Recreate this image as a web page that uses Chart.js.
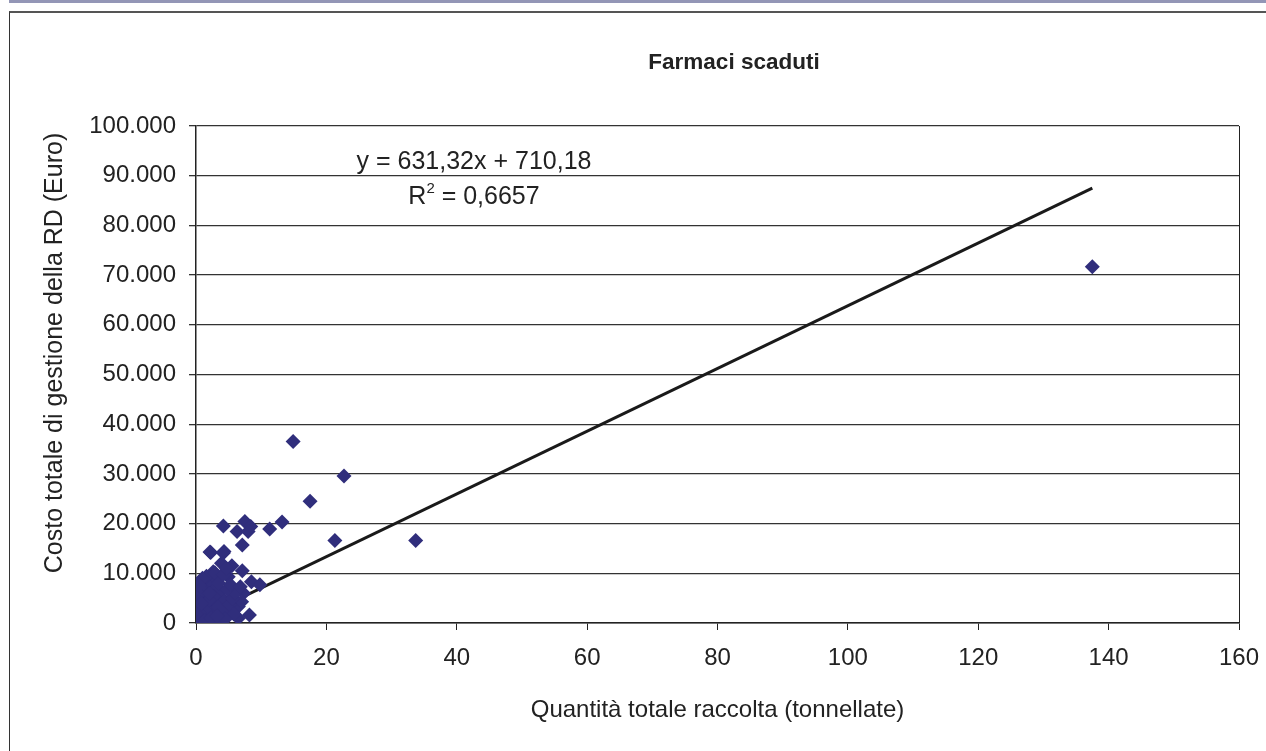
<!DOCTYPE html>
<html>
<head>
<meta charset="utf-8">
<script src="https://cdn.jsdelivr.net/npm/chart.js@4"></script>
<style>
  body { margin: 0; background: #fff; overflow: hidden; }
  #band { position: absolute; left: 9px; top: 0; width: 1300px; height: 3px; background: #9396b6; }
  #frame { position: absolute; left: 9px; top: 11px; width: 1300px; height: 800px;
           border-left: 1px solid #333; border-top: 2px solid #555; }
  #wrap { position: absolute; left: 0; top: 0; width: 1266px; height: 751px; }
</style>
</head>
<body>
<div id="band"></div>
<div id="frame"></div>
<div id="wrap"><canvas id="chart" width="1266" height="751"></canvas></div>
<script>
// quantita raccolta (t) e costo (Euro) per comune
const qtyTons = [
  137.5, 14.9, 22.7, 17.5, 21.3, 33.7, 13.2, 11.3, 4.2, 7.5, 8.4, 6.3, 8.0, 7.1, 2.25, 4.3,
  3.9, 5.5, 7.1, 2.65, 0.6, 4.95, 8.5, 9.8, 6.5, 8.2, 6.5, 7.3, 7.0, 4.2, 5.2, 2.15, 4.2,
  0.1, 0.2, 0.3, 0.4, 0.5, 0.6, 0.2, 0.8, 1.0, 1.1, 0.3, 0.7, 1.3, 1.5, 0.5, 1.0, 1.8, 2.1,
  0.4, 1.2, 2.4, 2.8, 0.9, 1.7, 3.0, 3.3, 0.6, 1.4, 2.2, 3.6, 4.0, 0.3, 1.1, 2.6, 3.8, 4.4,
  2.0, 3.1, 1.6, 2.9, 0.2, 0.1, 0.15, 0.25, 0.45, 1.9, 2.5, 3.4, 0.9, 1.6, 2.3, 3.0, 3.7,
  4.6, 5.1, 5.6, 6.0, 4.8, 5.3, 6.8, 2.7, 1.3, 0.7, 3.5, 4.2, 4.7, 1.0, 0.5, 2.0, 5.8, 4.5,
  0.05, 0.0, 0.35, 1.45, 2.05, 0.15, 0.55, 1.25, 2.35, 3.2, 0.0, 0.8
];
const costEuro = [
  71700, 36500, 29600, 24500, 16600, 16600, 20300, 18900, 19500, 20400, 19400, 18400, 18400, 15700, 14200, 14400,
  12000, 11500, 10500, 10300, 8300, 9300, 8300, 7700, 3300, 1600, 950, 6000, 4300, 1300, 6600, 14300, 14100,
  200, 500, 100, 800, 300, 1200, 1500, 600, 250, 1000, 2200, 2600, 1800, 400, 3100, 3500, 2300, 900,
  4200, 4600, 3000, 1500, 5300, 5600, 4100, 2300, 6200, 6900, 6400, 5200, 3400, 7100, 7800, 7500, 6500, 4500,
  8600, 8900, 9400, 10100, 900, 2800, 3800, 5000, 5800, 1200, 2000, 3200, 150, 700, 300, 600, 1100,
  2700, 3700, 5000, 6000, 6800, 7700, 7300, 5300, 3000, 4000, 8000, 9800, 10900, 9000, 7600, 4600, 1800, 800,
  100, 400, 1300, 2400, 5900, 50, 2000, 500, 1000, 1400, 1800, 3900
];

// retta di tendenza (estremi)
const trendX = [0, 137.5];
const trendY = [710, 87520];

const equationLines = ['y = 631,32x + 710,18', 'R2 = 0,6657'];
const chartTitle = 'Farmaci scaduti';
const yTitle = 'Costo totale di gestione della RD (Euro)';

const font = '"Liberation Sans", Arial, sans-serif';
const navy = '#302e7c';

function formatIt(v) {
  return String(v).replace(/\B(?=(\d{3})+(?!\d))/g, '.');
}

const extraText = {
  id: 'extraText',
  afterDraw(chart) {
    const ctx = chart.ctx;
    const area = chart.chartArea;
    ctx.save();
    // bordo destro dell'area del grafico
    ctx.strokeStyle = '#222';
    ctx.lineWidth = 1;
    ctx.beginPath();
    ctx.moveTo(Math.round(area.right) + 0.5, area.top);
    ctx.lineTo(Math.round(area.right) + 0.5, area.bottom);
    ctx.stroke();

    ctx.fillStyle = '#222';
    ctx.textAlign = 'center';
    ctx.textBaseline = 'middle';
    ctx.font = 'bold 22.5px ' + font;
    ctx.fillText(chartTitle, 734, 63);

    // titolo asse y
    ctx.save();
    ctx.translate(55, 353);
    ctx.rotate(-Math.PI / 2);
    ctx.font = '25px ' + font;
    ctx.fillText(yTitle, 0, 0);
    ctx.restore();

    ctx.font = '25px ' + font;
    ctx.fillText(equationLines[0], 474, 162);
    // R^2 con apice
    const base = 'R';
    const rest = ' = 0,6657';
    const wR = ctx.measureText(base).width;
    ctx.font = '15px ' + font;
    const w2 = ctx.measureText('2').width;
    ctx.font = '25px ' + font;
    const wRest = ctx.measureText(rest).width;
    let x = 474 - (wR + w2 + wRest) / 2;
    ctx.textAlign = 'left';
    ctx.fillText(base, x, 197);
    ctx.font = '15px ' + font;
    ctx.fillText('2', x + wR, 189);
    ctx.font = '25px ' + font;
    ctx.fillText(rest, x + wR + w2, 197);
    ctx.restore();
  }
};

new Chart(document.getElementById('chart').getContext('2d'), {
  type: 'scatter',
  data: {
    datasets: [
      {
        label: 'Comuni',
        data: qtyTons.map((q, i) => ({ x: q, y: costEuro[i] })),
        pointStyle: 'rectRot',
        pointRadius: 7.5,
        backgroundColor: navy,
        borderColor: navy,
        borderWidth: 0
      },
      {
        label: 'Lineare',
        type: 'line',
        data: trendX.map((q, i) => ({ x: q, y: trendY[i] })),
        borderColor: '#1a1a1a',
        borderWidth: 3,
        pointRadius: 0,
        fill: false
      }
    ]
  },
  plugins: [extraText],
  options: {
    responsive: false,
    animation: false,
    layout: { padding: { left: 0, right: 27, top: 126, bottom: 0 } },
    plugins: {
      legend: { display: false },
      tooltip: { enabled: false }
    },
    scales: {
      x: {
        type: 'linear',
        min: 0,
        max: 160,
        ticks: { stepSize: 20, color: '#222', padding: 14, font: { family: font, size: 24 } },
        grid: { drawOnChartArea: false, tickLength: 7, color: '#222' },
        border: { color: '#222', width: 1.5 },
        title: {
          display: true,
          text: 'Quantità totale raccolta (tonnellate)',
          color: '#222',
          font: { family: font, size: 24 },
          padding: { top: 0, bottom: 26 }
        },
        afterFit(scale) {
          scale.height = 128;
          scale.paddingLeft = 0;
          scale.paddingRight = 0;
        }
      },
      y: {
        min: 0,
        max: 100000,
        ticks: { stepSize: 10000, color: '#222', padding: 13, font: { family: font, size: 24 },
                 callback: v => formatIt(v) },
        grid: { color: '#333', lineWidth: 1.3, tickLength: 7 },
        border: { color: '#222', width: 1.5 },
        afterFit(scale) {
          scale.width = 196;
          scale.paddingTop = 0;
          scale.paddingBottom = 0;
        }
      }
    }
  }
});
</script>
</body>
</html>
